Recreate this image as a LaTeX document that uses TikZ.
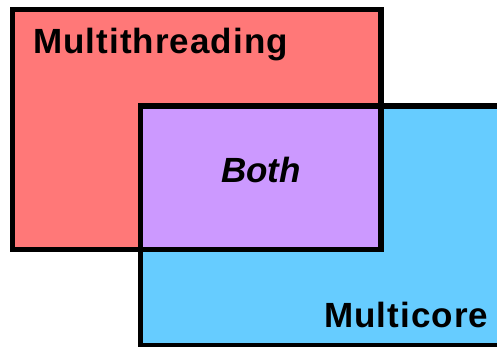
\documentclass[tikz,border=0pt]{standalone}
\usepackage{fontspec}
\setmainfont{Liberation Sans}
\newfontfamily\tagfont[LetterSpace=3]{Liberation Sans}
\definecolor{mtRed}{RGB}{255,120,120}
\definecolor{mcBlue}{RGB}{102,204,255}
\definecolor{bothPurple}{RGB}{204,153,255}

\begin{document}
\begin{tikzpicture}[x=1pt,y=-1pt,line join=miter,
  frame/.style={draw=black,line width=5.5pt},
  tag/.style={inner sep=0pt,font=\fontsize{35}{40}\selectfont\tagfont\bfseries}]
\useasboundingbox (0,0) rectangle (497,346);
\begin{scope}
\clip (0,0) rectangle (497,346);
% ---- fills: multithreading, multicore, then the overlap on top
\fill[mtRed] (12.5,9.5) rectangle (380.8,249.5);
\fill[mcBlue] (140.5,106) rectangle (520,345.5);
\fill[bothPurple] (140.5,106) rectangle (380.8,249.5);
% ---- borders over all fills
\draw[frame] (12.5,9.5) rectangle (380.8,249.5);
\draw[frame] (140.5,106) rectangle (520,345.5);
\end{scope}
\node[tag,anchor=base west] (mthread) at (33,53) {Multithreading};
\node[tag,anchor=base,font=\fontsize{35}{40}\selectfont\bfseries\itshape] (both) at (261,182) {Both};
\node[tag,anchor=base west] (mcore) at (324,327) {Multicore};
\end{tikzpicture}
\end{document}
